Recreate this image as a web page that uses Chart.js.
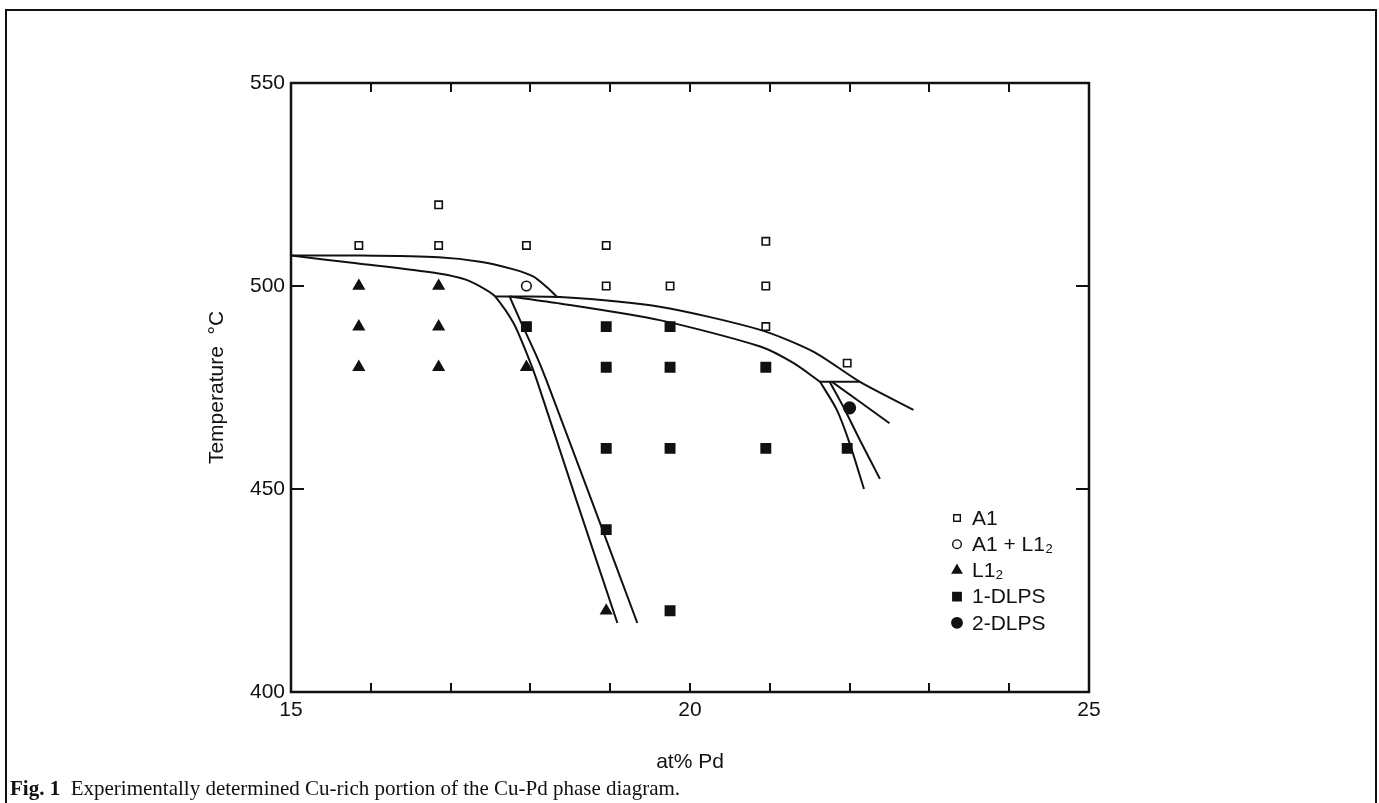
<!DOCTYPE html>
<html>
<head>
<meta charset="utf-8">
<title>Cu-Pd phase diagram</title>
<script src="https://cdn.jsdelivr.net/npm/chart.js@4.4.0/dist/chart.umd.min.js"></script>
<style>
  body { margin: 0; background: #fff; }
  #wrap { position: relative; width: 1379px; height: 803px; overflow: hidden; }
  #frame { position: absolute; left: 5px; top: 9px; width: 1368px; height: 830px; border: 2px solid #111; }
  #caption { position: absolute; left: 10px; top: 776px; font-family: "Liberation Serif", "Times New Roman", serif; font-size: 21px; color: #111; white-space: pre; }
  #caption b { font-weight: bold; }
  canvas { position: absolute; left: 0; top: 0; }
</style>
</head>
<body>
<div id="wrap">
  <div id="frame"></div>
  <canvas id="myChart" width="1379" height="803"></canvas>
  <div id="caption"><b>Fig. 1</b>  Experimentally determined Cu-rich portion of the Cu-Pd phase diagram.</div>
</div>
<script>
// measured points (at% Pd, temperature °C)
const a1X = [15.85, 16.85, 16.85, 17.95, 18.95, 18.95, 19.75, 20.95, 20.95, 20.95, 21.97];
const a1T = [510, 520, 510, 510, 510, 500, 500, 511, 500, 490, 481];
const a1l12X = [17.95];
const a1l12T = [500];
const l12X = [15.85, 15.85, 15.85, 16.85, 16.85, 16.85, 17.95, 18.95];
const l12T = [500, 490, 480, 500, 490, 480, 480, 420];
const dlps1X = [17.95, 18.95, 19.75, 18.95, 19.75, 20.95, 18.95, 19.75, 20.95, 21.97, 18.95, 19.75];
const dlps1T = [490, 490, 490, 480, 480, 480, 460, 460, 460, 460, 440, 420];
const dlps2X = [22.0];
const dlps2T = [470];

// phase boundaries
const upperA1X = [15, 15.85, 16.85, 17.37, 17.79, 18.04, 18.2, 18.33];
const upperA1T = [507.5, 507.5, 507.1, 506.0, 504.1, 502.3, 499.8, 497.4];
const lowerA1X = [15, 15.82, 16.85, 17.2, 17.45, 17.56, 17.79, 17.97, 18.08, 18.58, 19.09];
const lowerA1T = [507.5, 505.6, 503.1, 501.5, 499.0, 497.4, 490.8, 482.6, 476.8, 447, 417];
const steep1X = [17.74, 17.87, 18.08, 18.2, 18.77, 19.34];
const steep1T = [497.4, 491.6, 482.6, 476.8, 447, 417];
const upperDX = [17.56, 18.37, 19.62, 20.88, 21.55, 22.13, 22.8];
const upperDT = [497.4, 497.3, 494.9, 489.2, 483.8, 476.4, 469.5];
const lowerDX = [17.74, 18.37, 19.62, 20.88, 21.3, 21.63];
const lowerDT = [497.4, 495.7, 491.6, 485.1, 481.0, 476.4];
const tieX = [21.63, 22.13];
const tieT = [476.4, 476.4];
const branchX = [21.78, 22.5];
const branchT = [476.4, 466.2];
const steep2X = [21.63, 21.84, 22.0, 22.18];
const steep2T = [476.4, 469.5, 461.3, 450];
const steep3X = [21.75, 21.92, 22.13, 22.38];
const steep3T = [476.4, 470.3, 462, 452.5];

const xMinorTicks = [16, 17, 18, 19, 20, 21, 22, 23, 24];
const yMinorTicks = [450, 500];

const pts = (xs, ys) => xs.map((x, i) => ({ x: x, y: ys[i] }));

const markerSet = (label, xs, ys, style, radius, filled) => ({
  type: 'scatter',
  label: label,
  data: pts(xs, ys),
  pointStyle: style,
  pointRadius: radius,
  pointBackgroundColor: filled ? '#111' : '#fff',
  pointBorderColor: '#111',
  pointBorderWidth: 1.6,
  order: 0
});

const boundary = (xs, ys) => ({
  type: 'line',
  label: '',
  data: pts(xs, ys),
  borderColor: '#111',
  borderWidth: 2,
  pointRadius: 0,
  tension: 0.25,
  fill: false,
  order: 1
});

const boundaries = [
  [upperA1X, upperA1T], [lowerA1X, lowerA1T], [steep1X, steep1T],
  [upperDX, upperDT], [lowerDX, lowerDT], [tieX, tieT],
  [branchX, branchT], [steep2X, steep2T], [steep3X, steep3T]
];

const markers = [
  markerSet('A1', a1X, a1T, 'rect', 5.2, false),
  markerSet('A1 + L1\u2082', a1l12X, a1l12T, 'circle', 4.8, false),
  markerSet('L1\u2082', l12X, l12T, 'triangle', 6, true),
  markerSet('1-DLPS', dlps1X, dlps1T, 'rect', 6.6, true),
  markerSet('2-DLPS', dlps2X, dlps2T, 'circle', 5.8, true)
];

// box around the plot with inward ticks on all four sides
const frameTicks = {
  id: 'frameTicks',
  afterDatasetsDraw(chart) {
    const { ctx, chartArea: a, scales } = chart;
    ctx.save();
    ctx.strokeStyle = '#111';
    ctx.lineWidth = 2.5;
    ctx.strokeRect(a.left, a.top, a.right - a.left, a.bottom - a.top);
    ctx.lineWidth = 2;
    ctx.beginPath();
    xMinorTicks.forEach(v => {
      const px = Math.round(scales.x.getPixelForValue(v));
      ctx.moveTo(px, a.bottom); ctx.lineTo(px, a.bottom - 9);
      ctx.moveTo(px, a.top); ctx.lineTo(px, a.top + 9);
    });
    yMinorTicks.forEach(v => {
      const py = Math.round(scales.y.getPixelForValue(v));
      ctx.moveTo(a.left, py); ctx.lineTo(a.left + 13, py);
      ctx.moveTo(a.right, py); ctx.lineTo(a.right - 13, py);
    });
    ctx.stroke();
    ctx.restore();
  }
};

// legend inside the plot, lower right
const innerLegend = {
  id: 'innerLegend',
  afterDraw(chart) {
    const { ctx, chartArea: a } = chart;
    const x0 = a.right - 132, y0 = a.bottom - 174;
    ctx.save();
    ctx.font = '21px "Liberation Sans", Arial, sans-serif';
    ctx.textBaseline = 'middle';
    ctx.textAlign = 'left';
    markers.forEach((ds, i) => {
      const y = y0 + i * 26.2;
      ctx.fillStyle = ds.pointBackgroundColor;
      ctx.strokeStyle = '#111';
      ctx.lineWidth = 1.4;
      Chart.helpers.drawPoint(ctx, {
        pointStyle: ds.pointStyle, radius: ds.pointRadius * 0.9, rotation: 0, borderWidth: 1.4
      }, x0, y);
      ctx.fillStyle = '#111';
      ctx.fillText(ds.label, x0 + 15, y + 1);
    });
    ctx.restore();
  }
};

Chart.defaults.font.family = '"Liberation Sans", Arial, sans-serif';
Chart.defaults.color = '#111';

new Chart(document.getElementById('myChart'), {
  type: 'scatter',
  data: {
    datasets: [...markers, ...boundaries.map(b => boundary(b[0], b[1]))]
  },
  options: {
    responsive: false,
    animation: false,
    events: [],
    layout: { padding: { left: 205, top: 83, right: 290, bottom: 28 } },
    plugins: {
      legend: { display: false },
      tooltip: { enabled: false }
    },
    scales: {
      x: {
        type: 'linear',
        min: 15,
        max: 25,
        grid: { display: false, drawTicks: false },
        border: { display: false },
        ticks: { stepSize: 5, padding: 6, font: { size: 21 }, color: '#111' },
        title: { display: true, text: 'at% Pd', font: { size: 21 }, padding: 0, color: '#111' },
        afterFit: s => { s.height = 83; }
      },
      y: {
        type: 'linear',
        min: 400,
        max: 550,
        grid: { display: false, drawTicks: false },
        border: { display: false },
        ticks: { stepSize: 50, padding: 6, font: { size: 21 }, color: '#111' },
        title: { display: true, text: 'Temperature  \u00B0C', font: { size: 21 }, padding: 0, color: '#111' },
        afterFit: s => { s.width = 86; }
      }
    }
  },
  plugins: [frameTicks, innerLegend]
});
</script>
</body>
</html>
